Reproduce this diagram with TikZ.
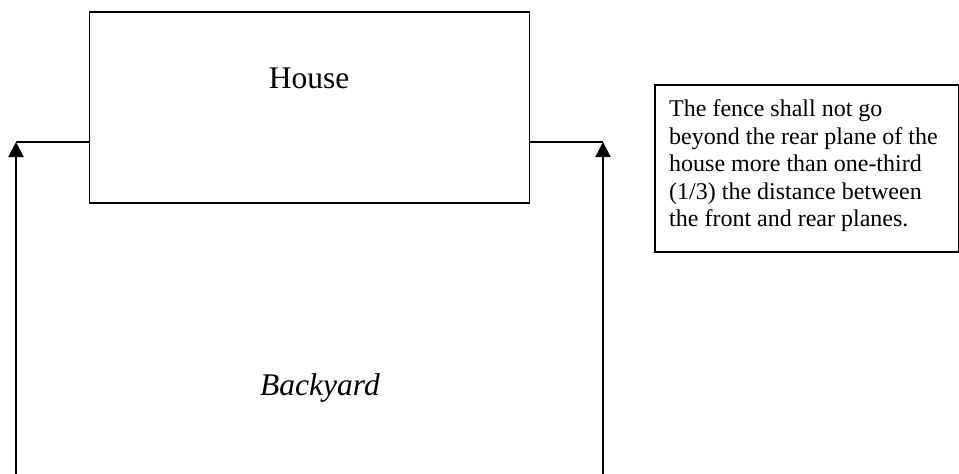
\documentclass[tikz,border=0pt]{standalone}
\usepackage{fontspec}
\setmainfont{Liberation Serif}
\usetikzlibrary{arrows.meta}
\tikzset{
  frame/.style={draw=black, line width=1.8pt, inner sep=0pt, fill=none},
  fenceline/.style={draw=black, line width=1.5pt},
  fencearrow/.style={draw=black, line width=2.2pt, -{Triangle[length=15pt,width=15pt]}},
  bigtext/.style={font=\fontsize{31.5}{36}\selectfont, inner sep=0pt, anchor=base},
  notetext/.style={font=\fontsize{24}{27.5}\selectfont, inner sep=0pt, anchor=base west},
}
\begin{document}
\begin{tikzpicture}[x=1pt, y=-1pt]
\path[use as bounding box, fill=white] (0,0) rectangle (959,474);
% house
\node[frame, minimum width=440pt, minimum height=191.5pt] (house) at (309.5,107.5) {};
\node[bigtext] (houselabel) at (309,88) {House};
% backyard label
\node[bigtext] (yardlabel) at (320,395) {\itshape Backyard};
% fence corners and ends
\coordinate (lc) at (16,142);
\coordinate (lb) at (16,474);
\coordinate (rc) at (603,142);
\coordinate (rb) at (603,474);
\draw[fenceline] (house.west |- lc) -- (lc);
\draw[fenceline] (house.east |- rc) -- (rc);
\draw[fencearrow] (lb) -- (lc);
\draw[fencearrow] (rb) -- (rc);
% note
\node[frame, line width=2pt, anchor=north west, minimum width=304pt, minimum height=167.3pt] (note) at (654,84) {};
\node[notetext] (n1) at (669,116.7) {The fence shall not go};
\node[notetext] (n2) at (669,144.2) {beyond the rear plane of the};
\node[notetext] (n3) at (669,171.7) {house more than one-third};
\node[notetext] (n4) at (669,199.2) {(1/3) the distance between};
\node[notetext] (n5) at (669,226.7) {the front and rear planes.};
\end{tikzpicture}
\end{document}
